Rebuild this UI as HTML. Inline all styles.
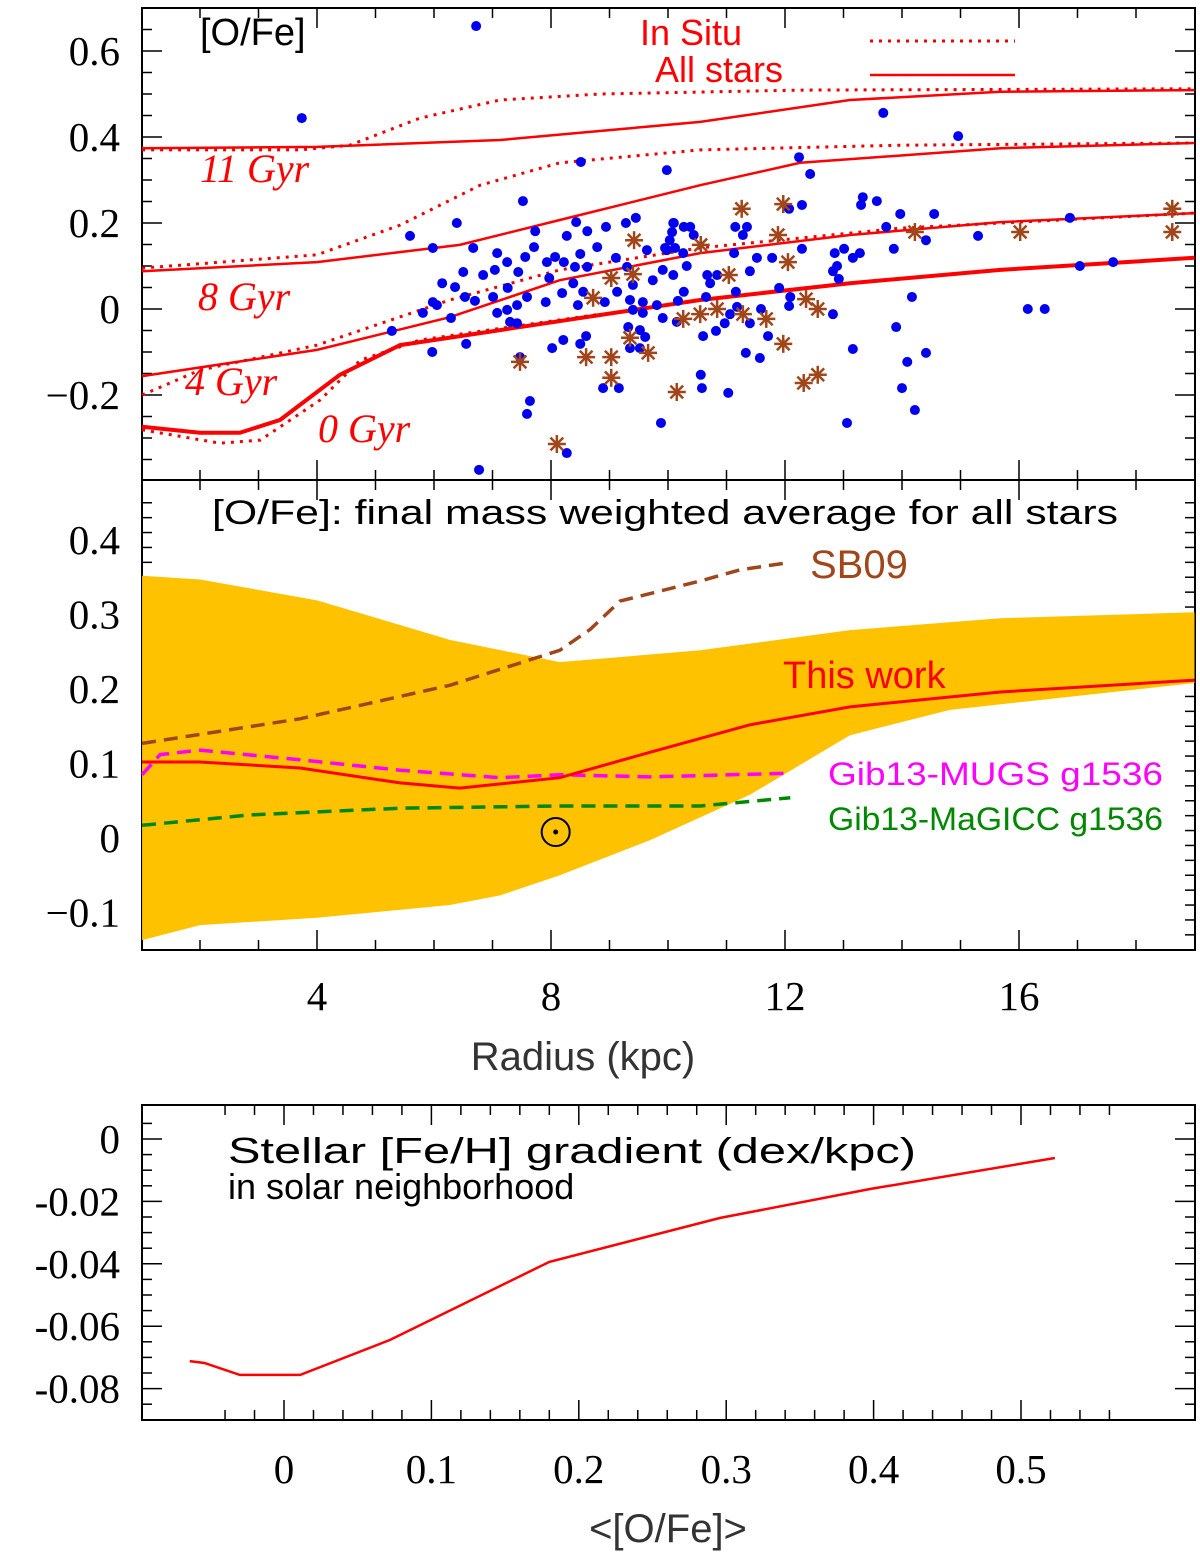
<!DOCTYPE html>
<html><head><meta charset="utf-8"><style>
body{margin:0;background:#fff}
svg{display:block}
text{font-family:"Liberation Serif",serif}
.sans{font-family:"Liberation Sans",sans-serif}
</style></head><body>
<svg id="c" width="1200" height="1557" viewBox="0 0 1200 1557" xmlns="http://www.w3.org/2000/svg"></svg>
<script>
// ===== Panel 1 data: scatter =====
const dotR=[3.74,6.72,8.51,9.98,7.52,5.59,6.39,5.98,6.67,7.73,8.43,8.27,8.62,8.94,9.28,9.45,10.09,7.71,7.08,7.25,7.56,7.93,8.07,8.22,8.50,8.79,8.41,8.62,9.11,9.30,9.64,9.98,6.50,7.04,7.44,6.14,6.84,6.36,6.53,7.26,7.97,8.38,5.98,6.05,6.70,7.01,7.59,7.91,8.19,8.55,8.46,9.13,8.92,9.35,9.57,9.81,9.74,9.40,5.81,6.29,7.08,7.25,7.42,7.30,7.42,9.40,9.57,9.91,10.15,9.32,9.52,5.28,6.55,5.97,8.02,8.21,8.50,8.60,9.35,9.52,9.61,7.47,8.89,9.16,7.64,7.59,9.88,8.27,6.77,
13.68,14.96,12.24,12.43,13.33,13.57,13.30,12.29,12.07,13.97,14.55,10.10,10.27,10.38,10.07,10.44,10.03,11.15,11.35,11.28,9.95,10.12,10.26,11.13,11.52,11.78,12.29,12.85,13.01,13.16,13.28,13.73,13.86,14.41,10.32,9.91,10.09,10.67,10.84,10.72,11.40,12.89,12.82,12.92,10.27,10.17,10.65,11.16,11.90,12.09,12.07,11.18,11.06,11.59,11.40,10.97,10.60,10.82,11.71,12.82,14.17,13.90,13.16,14.09,14.41,11.33,11.57,10.56,10.58,11.03,14.00,14.22,13.06,15.30,16.15,16.44,16.87,17.04,17.61];
const dotV=[0.444,0.658,0.342,0.323,0.251,0.170,0.200,0.142,0.142,0.181,0.202,0.170,0.181,0.191,0.200,0.212,0.200,0.144,0.130,0.109,0.121,0.109,0.121,0.109,0.128,0.144,0.098,0.098,0.119,0.098,0.137,0.137,0.086,0.091,0.086,0.060,0.079,0.051,0.028,0.049,0.072,0.060,0.016,0.009,0.019,0.028,0.028,0.016,0.037,0.040,0.009,0.040,0.016,0.021,0.016,0.009,0.067,0.056,-0.009,-0.021,-0.009,-0.002,0.009,-0.030,-0.033,-0.002,-0.009,-0.021,-0.030,-0.042,-0.049,-0.051,-0.081,-0.100,-0.091,-0.072,-0.081,-0.063,-0.091,-0.091,-0.065,-0.112,-0.184,-0.184,-0.214,-0.244,-0.265,-0.335,-0.374,
0.456,0.402,0.353,0.314,0.260,0.251,0.242,0.242,0.233,0.221,0.221,0.200,0.191,0.191,0.179,0.172,0.160,0.191,0.191,0.172,0.142,0.142,0.130,0.130,0.119,0.119,0.140,0.130,0.140,0.119,0.130,0.191,0.140,0.160,0.100,0.091,0.079,0.079,0.079,0.060,0.088,0.100,0.088,0.070,0.040,0.019,0.028,0.040,0.049,0.028,0.007,0.005,-0.012,0,-0.033,-0.033,-0.063,-0.051,-0.063,-0.012,0.028,-0.042,-0.093,-0.123,-0.102,-0.102,-0.114,-0.153,-0.184,-0.195,-0.184,-0.235,-0.265,0.170,0,0,0.212,0.100,0.109];
const starR=[9.42,9.03,9.40,8.72,7.47,8.60,9.03,9.03,9.66,9.35,8.10,10.15,11.26,11.97,10.56,11.88,12.05,11.04,14.22,10.26,10.55,10.84,11.28,11.68,12.36,12.56,11.97,12.32,12.56,16.02,18.62,18.62];
const starV=[0.160,0.072,0.081,0.026,-0.123,-0.112,-0.112,-0.160,-0.102,-0.067,-0.314,-0.193,0.233,0.244,0.149,0.172,0.109,0.079,0.179,-0.023,-0.012,0,-0.012,-0.023,0.023,0,-0.081,-0.172,-0.153,0.179,0.233,0.179];
// ===== Panel 1 model curves =====
const g11AllR=[1.01,4,7.13,10.55,13.11,15.68,19];
const g11AllV=[0.374,0.377,0.393,0.435,0.486,0.505,0.509];
const g11SituR=[1.01,3.71,4.56,5.76,7.13,8.84,12.26,19];
const g11SituV=[0.370,0.370,0.381,0.444,0.486,0.500,0.509,0.512];
const g8AllR=[1.01,4,6.44,8.15,10.55,12.26,15.68,19];
const g8AllV=[0.088,0.109,0.149,0.207,0.288,0.340,0.374,0.386];
const g8SituR=[1.01,4,5.42,6.79,8.15,10.55,13.97,19];
const g8SituV=[0.095,0.126,0.195,0.288,0.340,0.370,0.381,0.386];
const g4AllR=[1.01,4,6.27,8.15,10.55,13.11,15.68,19];
const g4AllV=[-0.156,-0.095,-0.019,0.067,0.130,0.172,0.202,0.223];
const g4SituR=[1.01,2.0,4,6.27,8.15,10.55,13.97,19];
const g4SituV=[-0.200,-0.142,-0.084,0.021,0.091,0.142,0.188,0.223];
const g0AllR=[1.01,2.0,2.68,3.37,4.39,5.42,7.13,8.84,10.55,13.11,15.68,19];
const g0AllV=[-0.274,-0.288,-0.288,-0.258,-0.153,-0.084,-0.049,-0.014,0.021,0.060,0.091,0.119];
const g0SituR=[1.01,2.34,3.03,4.05,4.74,5.76,7.13,8.84];
const g0SituV=[-0.281,-0.312,-0.305,-0.212,-0.119,-0.072,-0.045,-0.012];
// ===== Panel 2 data =====
const bandR=[1.01,2.0,4,6.27,8.15,10.55,13.11,15.68,19];
const bandHi=[0.352,0.347,0.319,0.266,0.236,0.252,0.279,0.295,0.303];
const bandLoR=[1.01,2.0,4,6.27,7.13,8.15,9.69,11.40,13.11,14.82,19];
const bandLo=[-0.137,-0.117,-0.107,-0.090,-0.077,-0.050,-0.003,0.058,0.138,0.172,0.208];
const workR=[1.01,2.0,3.71,5.42,6.44,8.15,9.69,11.40,13.11,15.68,19];
const workV=[0.102,0.102,0.094,0.074,0.067,0.081,0.115,0.152,0.176,0.196,0.212];
const sbR=[1.01,3.71,6.27,8.15,8.67,9.18,10.55,11.23,12.09];
const sbV=[0.127,0.160,0.205,0.252,0.280,0.318,0.345,0.360,0.370];
const mugsR=[1.01,1.32,2.0,3.71,5.42,7.13,8.15,9.69,12.09];
const mugsV=[0.085,0.112,0.118,0.105,0.091,0.081,0.085,0.082,0.087];
const magR=[1.01,2.85,5.42,8.15,10.55,12.09];
const magV=[0.017,0.031,0.040,0.043,0.043,0.054];
const sunR=8.08, sunV=0.008;
// ===== Panel 3 data =====
const gradX=[-0.064,-0.054,-0.030,0.011,0.072,0.180,0.296,0.398,0.523];
const gradY=[-0.0712,-0.0718,-0.0756,-0.0756,-0.0644,-0.0394,-0.0253,-0.016,-0.0061];
const p1Ticks=["0.6","0.4","0.2","0","\u22120.2"], p1TickV=[0.6,0.4,0.2,0,-0.2];
const p2Ticks=["0.4","0.3","0.2","0.1","0","\u22120.1"], p2TickV=[0.4,0.3,0.2,0.1,0,-0.1];
const xTicks=["4","8","12","16"], xTickV=[4,8,12,16];
const p3yTicks=["0","-0.02","-0.04","-0.06","-0.08"], p3yTickV=[0,-0.02,-0.04,-0.06,-0.08];
const p3xTicks=["0","0.1","0.2","0.3","0.4","0.5"], p3xTickV=[0,0.1,0.2,0.3,0.4,0.5];

const NS="http://www.w3.org/2000/svg", svg=document.getElementById('c');
function mk(tag,attrs,parent){const e=document.createElementNS(NS,tag);for(const k in attrs)e.setAttribute(k,attrs[k]);(parent||svg).appendChild(e);return e;}
const L=142,R=1195;
const X=r=>317+(r-4)*58.5;
const Y1=v=>309-430*v, Y2=v=>838-745*v;
const X3=o=>284+o*1474, Y3=g=>1139-3120*g;
function pts(xs,ys,fx,fy){return xs.map((x,i)=>fx(x).toFixed(1)+','+fy(ys[i]).toFixed(1)).join(' ');}
function line(xs,ys,fx,fy,st,name){const e=mk('polyline',Object.assign({points:pts(xs,ys,fx,fy),fill:'none'},st));return e;}
function txt(s,x,y,st,name){const e=mk('text',Object.assign({x:x,y:y},st));e.textContent=s;return e;}

const f1=mk('rect',{x:L,y:8,width:R-L,height:472,fill:'none',stroke:'#000','stroke-width':2});

const f2=mk('rect',{x:L,y:480,width:R-L,height:470,fill:'none',stroke:'#000','stroke-width':2});

const f3=mk('rect',{x:L,y:1105,width:R-L,height:315,fill:'none',stroke:'#000','stroke-width':2});


function tk(x1,y1,x2,y2){const t=mk('line',{x1:x1,y1:y1,x2:x2,y2:y2,stroke:'#000','stroke-width':1.5});}
[[8,480],[480,950]].forEach(([t,b])=>{for(let r=2;r<=18;r++){const len=r%4===0?20:10;tk(X(r),t,X(r),t+len);tk(X(r),b,X(r),b-len);}});
for(let v=-0.35;v<=0.66;v+=0.05){const y=Y1(v);if(y<10||y>478)continue;const len=Math.abs(Math.round(v*100))%20===0?20:10;tk(L,y,L+len,y);tk(R,y,R-len,y);}
for(let v=-0.15;v<=0.46;v+=0.02){const y=Y2(v);if(y<482||y>948)continue;const len=Math.abs(Math.round(v*100))%10===0?20:10;tk(L,y,L+len,y);tk(R,y,R-len,y);}
for(let o=-0.04;o<=0.58;o+=0.02){const x=X3(o);if(x<L+2||x>R-2)continue;const len=Math.abs(Math.round(o*100))%10===0?20:10;tk(x,1105,x,1105+len);tk(x,1420,x,1420-len);}
for(let g=-0.085;g<=0.01;g+=0.005){const y=Y3(g);if(y<1107||y>1418)continue;const len=Math.abs(Math.round(g*1000))%20===0?20:10;tk(L,y,L+len,y);tk(R,y,R-len,y);}

const tf={'font-size':41,'text-anchor':'end'};
p1Ticks.forEach((s,i)=>txt(s,120,Y1(p1TickV[i])+14,tf,'top-y-tick-label'));
p2Ticks.forEach((s,i)=>txt(s,120,Y2(p2TickV[i])+14,tf,'middle-y-tick-label'));
xTicks.forEach((s,i)=>txt(s,X(xTickV[i]),1010,{'font-size':41,'text-anchor':'middle'},'x-tick-label'));
p3yTicks.forEach((s,i)=>txt(s,120,Y3(p3yTickV[i])+14,tf,'bottom-y-tick-label'));
p3xTicks.forEach((s,i)=>txt(s,X3(p3xTickV[i]),1483,{'font-size':41,'text-anchor':'middle'},'bottom-x-tick-label'));

const cp=document.createElementNS(NS,'clipPath');cp.id='cl1';svg.appendChild(cp);mk('rect',{x:L,y:8,width:R-L,height:472},cp);
const g1=mk('g',{'clip-path':'url(#cl1)'});
const sol={stroke:'#f00','stroke-width':2.5}, dot={stroke:'#e00','stroke-width':3,'stroke-dasharray':'3,6'};
[[g11AllR,g11AllV,g11SituR,g11SituV,'11gyr'],[g8AllR,g8AllV,g8SituR,g8SituV,'8gyr'],[g4AllR,g4AllV,g4SituR,g4SituV,'4gyr'],[g0AllR,g0AllV,g0SituR,g0SituV,'0gyr']].forEach(a=>{
  const s=line(a[0],a[1],X,Y1,a[4]==='0gyr'?{stroke:'#f00','stroke-width':4}:sol,'all-stars-'+a[4]);g1.appendChild(s);
  const d=line(a[2],a[3],X,Y1,dot,'in-situ-'+a[4]);g1.appendChild(d);
});
dotR.forEach((r,i)=>{const c=mk('circle',{cx:X(r),cy:Y1(dotV[i]),r:5,fill:'#0000ee'},g1);});
starR.forEach((r,i)=>{const cx=X(r),cy=Y1(starV[i]);const g=mk('g',{stroke:'#a0461a','stroke-width':2.5},g1);
  for(let k=0;k<4;k++){const a=k*Math.PI/4;mk('line',{x1:cx-9*Math.cos(a),y1:cy-9*Math.sin(a),x2:cx+9*Math.cos(a),y2:cy+9*Math.sin(a)},g);}});

txt('[O/Fe]',200,45,{'font-size':38,class:'sans'},'top-panel-title');
txt('In Situ',640,45,{'font-size':36,class:'sans',fill:'#f00'},'legend-in-situ-label');
txt('All stars',655,82,{'font-size':36,class:'sans',fill:'#f00'},'legend-all-stars-label');
const l1=mk('line',{x1:870,y1:41,x2:1015,y2:41,stroke:'#e00','stroke-width':3,'stroke-dasharray':'3,6'});
const l2=mk('line',{x1:870,y1:75,x2:1015,y2:75,stroke:'#f00','stroke-width':2.5});
const it={'font-size':40,'font-style':'italic',fill:'#f00'};
txt('11 Gyr',200,182,it,'label-11-gyr');txt('8 Gyr',198,310,it,'label-8-gyr');txt('4 Gyr',185,395,it,'label-4-gyr');txt('0 Gyr',318,442,it,'label-0-gyr');

const bp=bandR.map((r,i)=>X(r)+','+Y2(bandHi[i])).concat(bandLoR.slice().reverse().map((r,i)=>X(r)+','+Y2(bandLo[bandLo.length-1-i]))).join(' ');
const band=mk('polygon',{points:bp,fill:'#ffc200'});
line(sbR,sbV,X,Y2,{stroke:'#a0461a','stroke-width':3.5,'stroke-dasharray':'14,8'},'sb09-line');
line(mugsR,mugsV,X,Y2,{stroke:'#ff00ff','stroke-width':3.5,'stroke-dasharray':'14,8'},'gib13-mugs-line');
line(magR,magV,X,Y2,{stroke:'#008800','stroke-width':3.5,'stroke-dasharray':'14,8'},'gib13-magicc-line');
line(workR,workV,X,Y2,{stroke:'#f00','stroke-width':3},'this-work-line');
const sc=mk('circle',{cx:X(sunR),cy:Y2(sunV),r:14,fill:'none',stroke:'#000','stroke-width':2});
mk('circle',{cx:X(sunR),cy:Y2(sunV),r:2.5,fill:'#000'});
txt('[O/Fe]: final mass weighted average for all stars',212,524,{'font-size':34,class:'sans',textLength:906,lengthAdjust:'spacingAndGlyphs'},'middle-panel-title');
txt('SB09',810,578,{'font-size':40,class:'sans',fill:'#a0461a'},'sb09-label');
txt('This work',783,688,{'font-size':38,class:'sans',fill:'#f00'},'this-work-label');
txt('Gib13-MUGS  g1536',828,785,{'font-size':32,class:'sans',fill:'#ff00ff',textLength:335,lengthAdjust:'spacingAndGlyphs'},'gib13-mugs-label');
txt('Gib13-MaGICC g1536',828,830,{'font-size':32,class:'sans',fill:'#008800',textLength:335,lengthAdjust:'spacingAndGlyphs'},'gib13-magicc-label');
txt('Radius (kpc)',583,1070,{'font-size':40,class:'sans','text-anchor':'middle',fill:'#333'},'x-axis-title');

line(gradX,gradY,X3,Y3,{stroke:'#f00','stroke-width':2.5},'fe-h-gradient-line');
txt('Stellar [Fe/H] gradient (dex/kpc)',228,1163,{'font-size':36,class:'sans',textLength:688,lengthAdjust:'spacingAndGlyphs'},'bottom-panel-title-1');
txt('in solar neighborhood',228,1199,{'font-size':36,class:'sans'},'bottom-panel-title-2');
txt('<[O/Fe]>',668,1542,{'font-size':40,class:'sans','text-anchor':'middle',fill:'#333'},'bottom-x-axis-title');
</script>
</body></html>
